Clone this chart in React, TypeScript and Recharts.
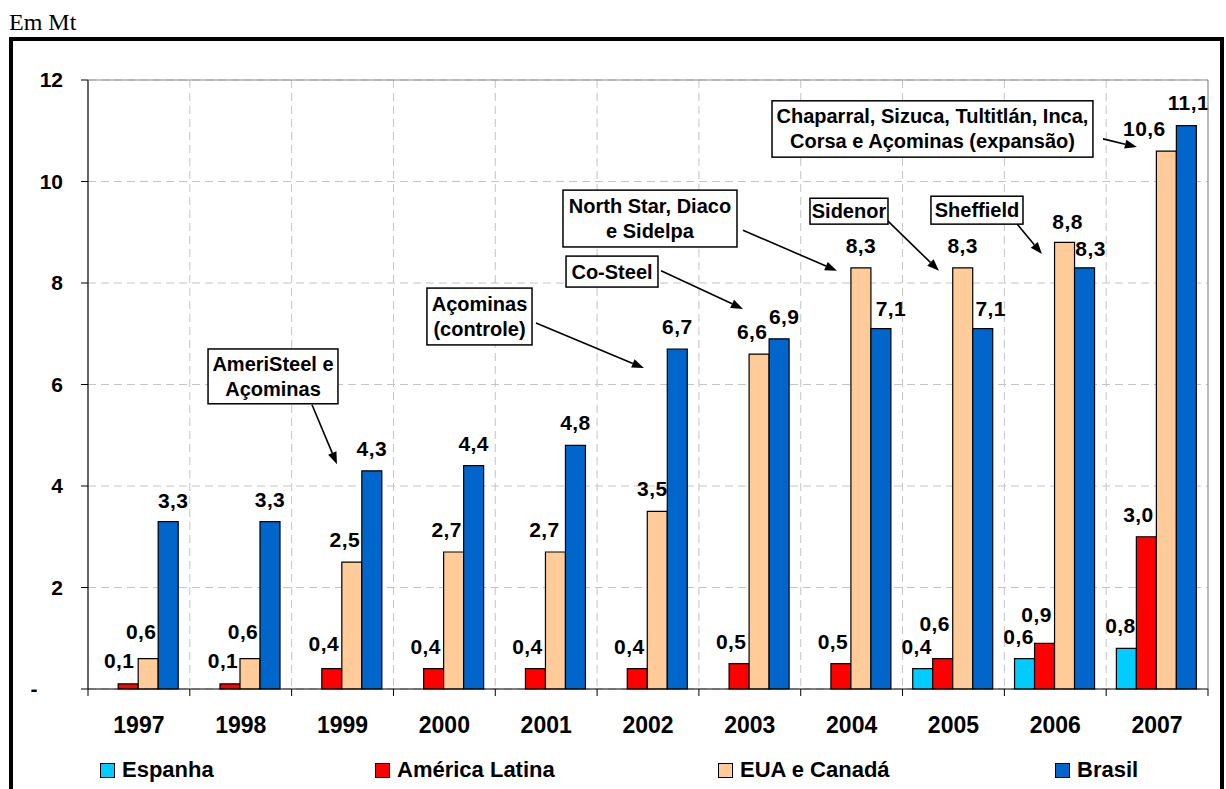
import { Bar, BarChart, CartesianGrid, LabelList, XAxis, YAxis } from "recharts";

// Produção por região (Mt)
const years = ["1997", "1998", "1999", "2000", "2001", "2002", "2003", "2004", "2005", "2006", "2007"];
const espanha = [null, null, null, null, null, null, null, null, 0.4, 0.6, 0.8];
const americaLatina = [0.1, 0.1, 0.4, 0.4, 0.4, 0.4, 0.5, 0.5, 0.6, 0.9, 3.0];
const euaCanada = [0.6, 0.6, 2.5, 2.7, 2.7, 3.5, 6.6, 8.3, 8.3, 8.8, 10.6];
const brasil = [3.3, 3.3, 4.3, 4.4, 4.8, 6.7, 6.9, 7.1, 7.1, 8.3, 11.1];
const yTicks = [0, 2, 4, 6, 8, 10, 12];

const series = [
  { key: "espanha", name: "Espanha", color: "#00CCFF" },
  { key: "latina", name: "América Latina", color: "#FF0000" },
  { key: "eua", name: "EUA e Canadá", color: "#FFCC99" },
  { key: "brasil", name: "Brasil", color: "#0066CC" },
];

// aquisições marcadas no gráfico: caixa [x1, x2, yTopo, yBase] e seta [de] -> [para],
// x em unidades de categoria (0 = borda esquerda), y em Mt
const acquisitions = [
  { lines: ["AmeriSteel e", "Açominas"], box: [1.179, 2.455, 6.7, 5.62], from: [2.2, 5.6], to: [2.445, 4.43] },
  { lines: ["Açominas", "(controle)"], box: [3.329, 4.361, 7.9, 6.78], from: [4.4, 7.21], to: [5.46, 6.325] },
  { lines: ["North Star, Diaco", "e Sidelpa"], box: [4.665, 6.374, 9.83, 8.71], from: [6.433, 9.04], to: [7.356, 8.24] },
  { lines: ["Co-Steel"], box: [4.695, 5.598, 8.53, 7.92], from: [5.628, 8.24], to: [6.433, 7.49] },
  { lines: ["Sidenor"], box: [7.091, 7.857, 9.67, 9.16], from: [7.837, 9.26], to: [8.358, 8.24] },
  { lines: ["Sheffield"], box: [8.279, 9.183, 9.71, 9.16], from: [9.085, 9.26], to: [9.369, 8.57] },
  {
    lines: ["Chaparral, Sizuca, Tultitlán, Inca,", "Corsa e Açominas (expansão)"],
    box: [6.718, 9.87, 11.59, 10.48],
    from: [9.969, 10.84],
    to: [10.302, 10.68],
  },
];

const data = years.map((year, i) => ({
  year,
  espanha: espanha[i],
  latina: americaLatina[i],
  eua: euaCanada[i],
  brasil: brasil[i],
}));

const W = 1226;
const H = 789;
const PLOT = { left: 88, top: 80, right: 1208, bottom: 689 };
const Y_MAX = 12;
const band = (PLOT.right - PLOT.left) / years.length;
const sx = (c: number) => PLOT.left + c * band;
const sy = (v: number) => PLOT.bottom - (v / Y_MAX) * (PLOT.bottom - PLOT.top);

const FONT = '"Liberation Sans", Arial, Helvetica, sans-serif';

// deslocamento dos rótulos em relação ao centro da barra (dx) e distância do topo (gap)
const labelDefaults: Record<string, { dx: number; gap: number }> = {
  espanha: { dx: -6, gap: 15 },
  latina: { dx: -8, gap: 15 },
  eua: { dx: -7, gap: 15 },
  brasil: { dx: 0, gap: 15 },
};
const labelNudges: Record<string, { dx?: number; gap?: number }> = {
  "latina:1997": { dx: -9, gap: 16 },
  "latina:1998": { dx: -7, gap: 16 },
  "latina:1999": { gap: 18 },
  "latina:2005": { gap: 28 },
  "latina:2006": { gap: 21 },
  "eua:1997": { gap: 20 },
  "eua:1998": { gap: 20 },
  "eua:2001": { dx: -11 },
  "eua:2002": { dx: -5 },
  "eua:2004": { dx: 0 },
  "eua:2005": { dx: 0 },
  "eua:2006": { dx: 3, gap: 13 },
  "eua:2007": { dx: -22 },
  "brasil:1997": { dx: 5, gap: 14 },
  "brasil:2003": { dx: 5 },
  "brasil:2004": { dx: 10, gap: 13 },
  "brasil:2005": { dx: 8, gap: 13 },
  "brasil:2006": { dx: 6, gap: 12 },
  "brasil:2007": { dx: 2, gap: 16 },
};

const fmt = (v: number) => v.toFixed(1).replace(".", ",");

function makeLabel(key: string) {
  return (props: any) => {
    const { x, y, width, value, index } = props;
    if (value == null || x == null) return null;
    const nudge = { ...labelDefaults[key], ...(labelNudges[`${key}:${years[index]}`] ?? {}) };
    return (
      <text
        x={Number(x) + Number(width) / 2 + nudge.dx}
        y={Number(y) - nudge.gap}
        textAnchor="middle"
        fontFamily={FONT}
        fontWeight="bold"
        fontSize={21}
        letterSpacing={0.4}
        fill="#000"
      >
        {fmt(Number(value))}
      </text>
    );
  };
}

function XTick(props: any) {
  const { x, payload } = props;
  return (
    <text x={x} y={PLOT.bottom + 44} textAnchor="middle" fontFamily={FONT} fontWeight="bold" fontSize={23} fill="#000">
      {payload.value}
    </text>
  );
}

function YTick(props: any) {
  const { y, payload } = props;
  if (payload.value === 0) {
    return (
      <text x={34} y={y + 7} textAnchor="middle" fontFamily={FONT} fontWeight="bold" fontSize={21} fill="#000">
        -
      </text>
    );
  }
  return (
    <text x={63} y={y + 7} textAnchor="end" fontFamily={FONT} fontWeight="bold" fontSize={21} fill="#000">
      {payload.value}
    </text>
  );
}

function Arrow({ from, to }: { from: number[]; to: number[] }) {
  const x1 = sx(from[0]);
  const y1 = sy(from[1]);
  const x2 = sx(to[0]);
  const y2 = sy(to[1]);
  const len = Math.hypot(x2 - x1, y2 - y1);
  const ux = (x2 - x1) / len;
  const uy = (y2 - y1) / len;
  const head = 12;
  const half = 4.5;
  const bx = x2 - ux * head;
  const by = y2 - uy * head;
  return (
    <g>
      <line x1={x1} y1={y1} x2={bx} y2={by} stroke="#000" strokeWidth={1.6} />
      <polygon
        points={`${x2},${y2} ${bx - uy * half},${by + ux * half} ${bx + uy * half},${by - ux * half}`}
        fill="#000"
      />
    </g>
  );
}

function Callout({ lines, box }: { lines: string[]; box: number[] }) {
  const x1 = sx(box[0]);
  const x2 = sx(box[1]);
  const y1 = sy(box[2]);
  const y2 = sy(box[3]);
  const cx = (x1 + x2) / 2;
  const cy = (y1 + y2) / 2;
  const step = 25;
  const first = cy - ((lines.length - 1) * step) / 2 + 7;
  return (
    <g>
      <rect x={x1} y={y1} width={x2 - x1} height={y2 - y1} fill="#fff" stroke="#000" strokeWidth={1.5} />
      {lines.map((t, i) => (
        <text
          key={i}
          x={cx}
          y={first + i * step}
          textAnchor="middle"
          fontFamily={FONT}
          fontWeight="bold"
          fontSize={20}
          fill="#000"
        >
          {t}
        </text>
      ))}
    </g>
  );
}

const legendX = [100, 375, 718, 1055];

export default function App() {
  const boundaries = years.slice(1).map((_, i) => sx(i + 1));
  return (
    <div style={{ position: "absolute", left: 0, top: 0, width: W, height: H, background: "#fff", overflow: "hidden" }}>
      <div
        style={{
          position: "absolute",
          left: 9,
          top: 8,
          fontFamily: '"Liberation Serif", "Times New Roman", serif',
          fontSize: 24,
          lineHeight: "28px",
          color: "#000",
        }}
      >
        Em Mt
      </div>
      <div
        style={{
          position: "absolute",
          left: 9,
          top: 37,
          width: 1215,
          height: 800,
          border: "4px solid #000",
          boxSizing: "border-box",
        }}
      />
      <div style={{ position: "absolute", left: 0, top: 0 }}>
        <BarChart
          width={W}
          height={H}
          data={data}
          margin={{ top: PLOT.top, right: W - PLOT.right, bottom: H - PLOT.bottom - 30, left: 0 }}
          barCategoryGap="10%"
          barGap={0}
        >
          <CartesianGrid stroke="#c4c4c4" strokeDasharray="8 5" verticalPoints={boundaries} />
          <XAxis
            dataKey="year"
            interval={0}
            height={30}
            tickLine={false}
            tickSize={0}
            axisLine={{ stroke: "#000", strokeWidth: 1.2 }}
            tick={<XTick />}
          />
          <YAxis
            width={PLOT.left}
            domain={[0, Y_MAX]}
            ticks={yTicks}
            tickSize={7}
            tickLine={{ stroke: "#000" }}
            axisLine={{ stroke: "#000", strokeWidth: 1.2 }}
            tick={<YTick />}
          />
          {series.map((s) => (
            <Bar key={s.key} dataKey={s.key} name={s.name} fill={s.color} stroke="#000" strokeWidth={1.2} isAnimationActive={false}>
              <LabelList dataKey={s.key} content={makeLabel(s.key)} />
            </Bar>
          ))}
        </BarChart>
      </div>
      <svg width={W} height={H} style={{ position: "absolute", left: 0, top: 0, pointerEvents: "none" }}>
        <line x1={PLOT.left} y1={PLOT.top} x2={PLOT.right} y2={PLOT.top} stroke="#8c8c8c" strokeWidth={1.2} />
        <line x1={PLOT.right} y1={PLOT.top} x2={PLOT.right} y2={PLOT.bottom} stroke="#8c8c8c" strokeWidth={1.2} />
        {years.map((_, i) => (
          <line key={i} x1={sx(i)} y1={PLOT.bottom} x2={sx(i)} y2={PLOT.bottom + 7} stroke="#000" />
        ))}
        <line x1={sx(years.length)} y1={PLOT.bottom} x2={sx(years.length)} y2={PLOT.bottom + 7} stroke="#000" />
        {acquisitions.map((a, i) => (
          <g key={i}>
            <Arrow from={a.from} to={a.to} />
            <Callout lines={a.lines} box={a.box} />
          </g>
        ))}
      </svg>
      {series.map((s, i) => (
        <div
          key={s.key}
          style={{
            position: "absolute",
            left: legendX[i],
            top: 757,
            display: "flex",
            alignItems: "center",
            fontFamily: FONT,
            fontWeight: "bold",
            fontSize: 22,
            color: "#000",
          }}
        >
          <span
            style={{
              display: "inline-block",
              width: 13,
              height: 13,
              background: s.color,
              border: "1px solid #000",
              marginRight: 7,
            }}
          />
          {s.name}
        </div>
      ))}
    </div>
  );
}
